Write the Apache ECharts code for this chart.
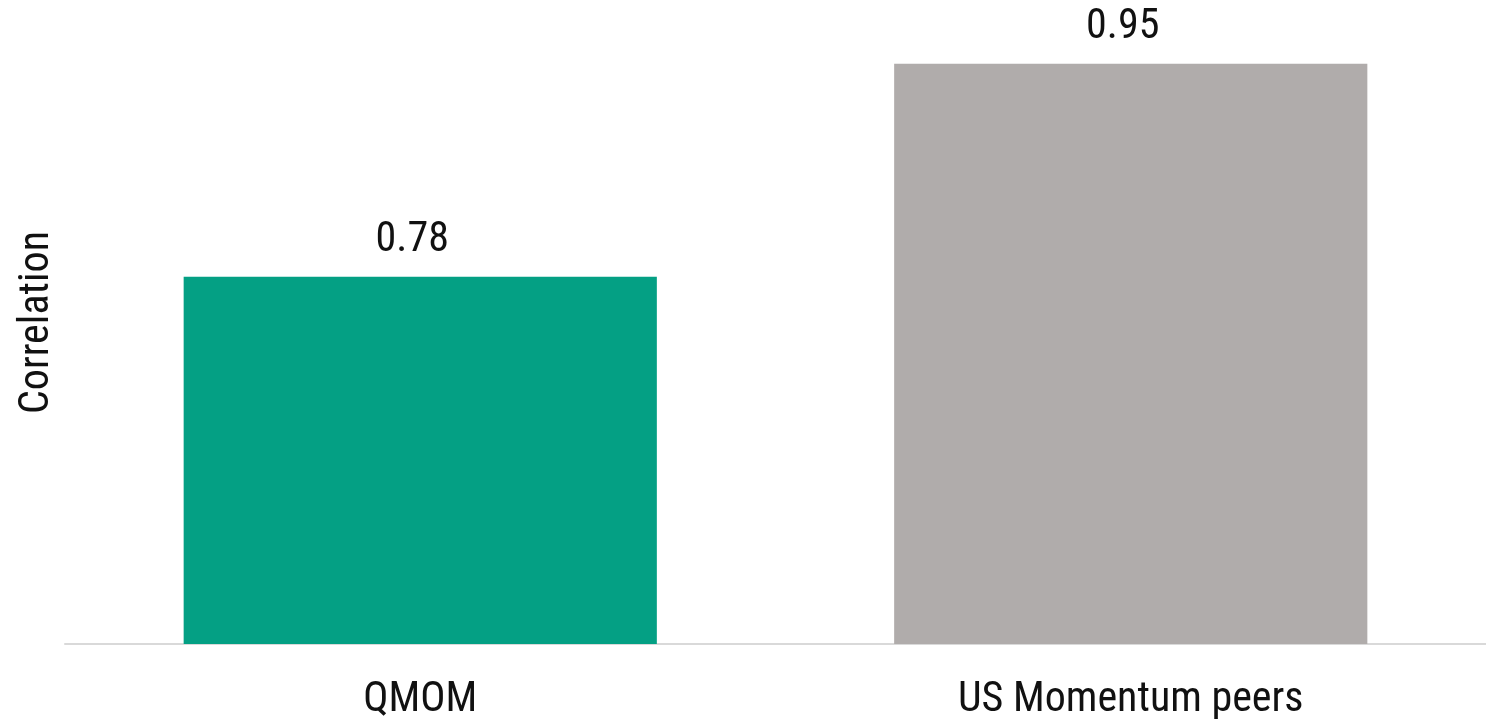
<!DOCTYPE html>
<html>
<head>
<meta charset="utf-8">
<script src="https://cdn.jsdelivr.net/npm/echarts@6/dist/echarts.min.js"></script>
<style>
  html, body { margin: 0; padding: 0; background: #fff; }
  #main { width: 1486px; height: 719px; }
</style>
</head>
<body>
<div id="main"></div>
<script>
const categories = ['QMOM', 'US Momentum peers'];
const correlation = [0.78, 0.95];
const barColors = ['#04a084', '#b0acab'];

const font = "'Roboto Condensed', 'Liberation Sans Narrow', 'DejaVu Sans Condensed', sans-serif";

const chart = echarts.init(document.getElementById('main'));

const option = {
  animation: false,
  textStyle: { fontFamily: font },
  grid: { left: 65, right: 0, top: 1, bottom: 75, outerBoundsMode: 'none', containLabel: false },
  xAxis: {
    type: 'category',
    data: categories,
    axisLine: { lineStyle: { color: '#d9d9d9', width: 2 } },
    axisTick: { show: false },
    axisLabel: { color: '#111', fontSize: 42, fontFamily: font, margin: 35 }
  },
  yAxis: {
    type: 'value',
    min: 0.487,
    max: 1.0,
    name: 'Correlation',
    nameLocation: 'middle',
    nameGap: 7,
    nameRotate: 90,
    nameTextStyle: { color: '#111', fontSize: 42, fontFamily: font },
    axisLine: { show: false },
    axisTick: { show: false },
    axisLabel: { show: false },
    splitLine: { show: false }
  },
  series: [{
    type: 'bar',
    barWidth: '66.6%',
    data: correlation.map((v, i) => ({ value: v, itemStyle: { color: barColors[i] } })),
    label: {
      show: true,
      position: 'top',
      distance: 15,
      offset: [-8, 0],
      color: '#111',
      fontSize: 42,
      fontFamily: font,
      formatter: p => p.value.toFixed(2)
    }
  }]
};

chart.setOption(option);
</script>
</body>
</html>
